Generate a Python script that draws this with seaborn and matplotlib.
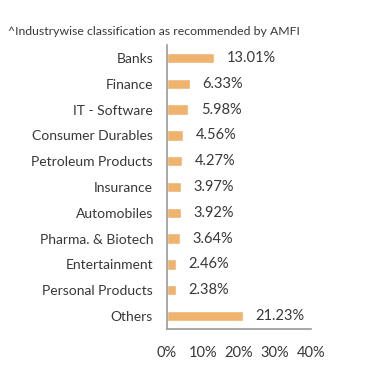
import numpy as np
import pandas as pd
import matplotlib.pyplot as plt
import seaborn as sns

# Dane z wykresu
industries = ['Banks', 'Finance', 'IT - Software', 'Consumer Durables', 'Petroleum Products',
              'Insurance', 'Automobiles', 'Pharma. & Biotech', 'Entertainment',
              'Personal Products', 'Others']
weights = [13.01, 6.33, 5.98, 4.56, 4.27, 3.97, 3.92, 3.64, 2.46, 2.38, 21.23]
x_ticks = [0, 10, 20, 30, 40]

data = pd.DataFrame({'industry': industries, 'weight': weights})

sns.set_style('white')
plt.rcParams['font.family'] = ['Lato', 'DejaVu Sans']
text_color = '#383838'
axis_color = '#9a9a9a'

fig = plt.figure(figsize=(3.91, 3.82), dpi=100)
ax = fig.add_axes([0.427, 0.139, 0.368, 0.743])

sns.barplot(data=data, x='weight', y='industry', color='#F0B36D', width=0.4,
            saturation=1, ax=ax)

for i, v in enumerate(weights):
    ax.annotate(f'{v:.2f}%', xy=(v, i), xytext=(9, 0), textcoords='offset points',
                va='center', ha='left', fontsize=10.5, color=text_color)

ax.set_xlim(0, 40)
ax.set_ylim(len(industries) - 0.5, -0.5)
ax.set_xticks(x_ticks)
ax.set_xticklabels([f'{t}%' for t in x_ticks])
ax.set_yticks(np.arange(-0.5, len(industries)), minor=True)
ax.tick_params(axis='y', which='major', length=0, pad=10, labelsize=10, labelcolor=text_color)
ax.tick_params(axis='y', which='minor', length=5, color=axis_color, direction='out')
ax.tick_params(axis='x', length=5, color=axis_color, direction='out', pad=7,
               labelsize=10.5, labelcolor=text_color)
ax.set_xlabel('')
ax.set_ylabel('')

for side in ['top', 'right']:
    ax.spines[side].set_visible(False)
for side in ['left', 'bottom']:
    ax.spines[side].set_color(axis_color)
    ax.spines[side].set_linewidth(1.2)

fig.text(0.02, 0.918, '^Industrywise classification as recommended by AMFI',
         fontsize=8.8, color=text_color, ha='left', va='center')

fig.savefig('out.png', dpi=100)
